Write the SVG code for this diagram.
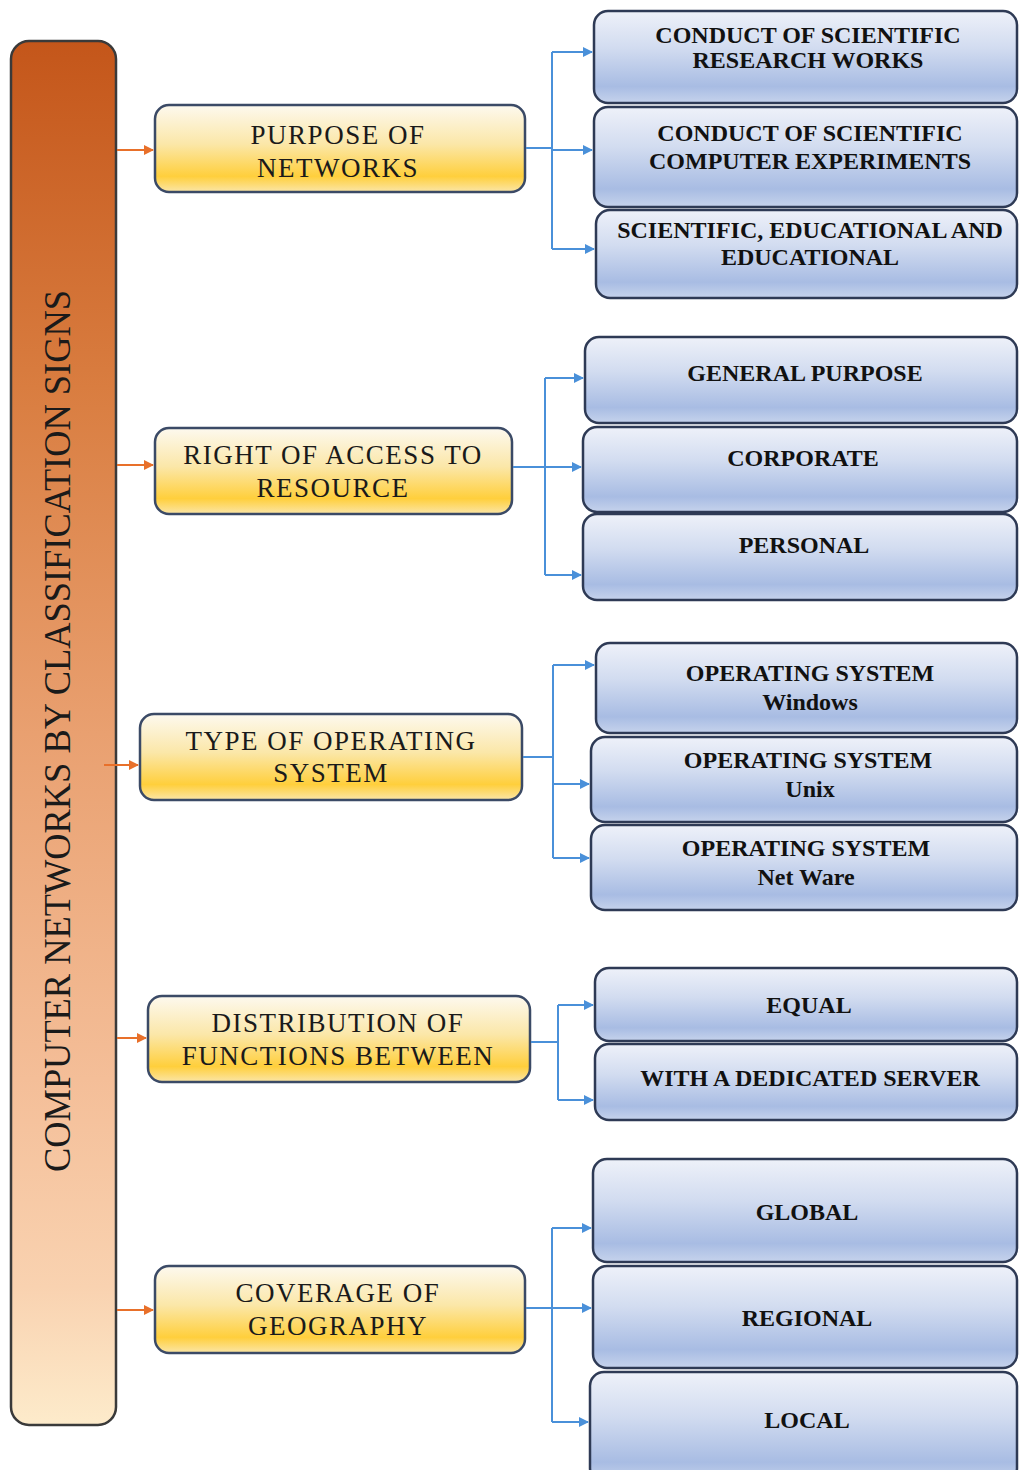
<svg xmlns="http://www.w3.org/2000/svg" width="1019" height="1470" viewBox="0 0 1019 1470">
  <defs>
    <linearGradient id="gBar" x1="0" y1="0" x2="0" y2="1">
      <stop offset="0" stop-color="#C4561A"/>
      <stop offset="0.25" stop-color="#D97D40"/>
      <stop offset="0.5" stop-color="#E9A070"/>
      <stop offset="0.75" stop-color="#F4BE98"/>
      <stop offset="0.9" stop-color="#F9D2B0"/>
      <stop offset="1" stop-color="#FDEBCB"/>
    </linearGradient>
    <linearGradient id="gYellow" x1="0" y1="0" x2="0" y2="1">
      <stop offset="0" stop-color="#FDF9EF"/>
      <stop offset="0.45" stop-color="#FBE7A8"/>
      <stop offset="0.82" stop-color="#FFCF3C"/>
      <stop offset="1" stop-color="#FBE6A8"/>
    </linearGradient>
    <linearGradient id="gBlue" x1="0" y1="0" x2="0" y2="1">
      <stop offset="0" stop-color="#EEF1F9"/>
      <stop offset="0.4" stop-color="#D2DCF0"/>
      <stop offset="0.82" stop-color="#A8BCE3"/>
      <stop offset="1" stop-color="#C6D3EC"/>
    </linearGradient>
    <marker id="arrOrange" viewBox="0 0 10 10" refX="9" refY="5" markerWidth="10" markerHeight="10" markerUnits="userSpaceOnUse" orient="auto">
      <path d="M0,0 L10,5 L0,10 z" fill="#E8702A"/>
    </marker>
    <marker id="arrBlue" viewBox="0 0 10 10" refX="9" refY="5" markerWidth="10" markerHeight="10" markerUnits="userSpaceOnUse" orient="auto">
      <path d="M0,0 L10,5 L0,10 z" fill="#4A90D9"/>
    </marker>
  </defs>
  <style>
    .bar { fill: url(#gBar); stroke: #3A3A3A; stroke-width: 2.5; }
    .cat { fill: url(#gYellow); stroke: #3B4A66; stroke-width: 2.5; }
    .item { fill: url(#gBlue); stroke: #2E3A55; stroke-width: 2.5; }
    .ttl { font-family: "Liberation Serif", "Times New Roman", serif; font-size: 37px; fill: #1A1A1A; }
    .ct { font-family: "Liberation Serif", "Times New Roman", serif; font-size: 27px; letter-spacing: 1.5px; fill: #1A1A1A; text-anchor: middle; }
    .it { font-family: "Liberation Serif", "Times New Roman", serif; font-size: 24px; font-weight: bold; fill: #111; text-anchor: middle; }
    .oc { stroke: #E8702A; stroke-width: 2; fill: none; }
    .bc { stroke: #4A90D9; stroke-width: 2; fill: none; }
  </style>
  <rect width="1019" height="1470" fill="#FFFFFF"/>

  <!-- root bar -->
  <g id="root">
    <rect class="bar" x="11" y="41" width="105" height="1384" rx="18"/>
    <text class="ttl" transform="translate(70,731) rotate(-90)" text-anchor="middle" textLength="882" lengthAdjust="spacingAndGlyphs">COMPUTER NETWORKS BY CLASSIFICATION SIGNS</text>
  </g>

  <!-- category boxes -->
  <g id="cat-purpose">
    <rect class="cat" x="155" y="105" width="370" height="87" rx="14"/>
    <text class="ct" x="338" y="144">PURPOSE OF</text>
    <text class="ct" x="338" y="177">NETWORKS</text>
  </g>
  <g id="cat-access">
    <rect class="cat" x="155" y="428" width="357" height="86" rx="14"/>
    <text class="ct" x="333" y="464">RIGHT OF ACCESS TO</text>
    <text class="ct" x="333" y="497">RESOURCE</text>
  </g>
  <g id="cat-os">
    <rect class="cat" x="140" y="714" width="382" height="86" rx="14"/>
    <text class="ct" x="331" y="750">TYPE OF OPERATING</text>
    <text class="ct" x="331" y="782">SYSTEM</text>
  </g>
  <g id="cat-functions">
    <rect class="cat" x="148" y="996" width="382" height="86" rx="14"/>
    <text class="ct" x="338" y="1032">DISTRIBUTION OF</text>
    <text class="ct" x="338" y="1065">FUNCTIONS BETWEEN</text>
  </g>
  <g id="cat-geography">
    <rect class="cat" x="155" y="1266" width="370" height="87" rx="14"/>
    <text class="ct" x="338" y="1302">COVERAGE OF</text>
    <text class="ct" x="338" y="1335">GEOGRAPHY</text>
  </g>

  <!-- purpose items -->
  <g id="item-research">
    <rect class="item" x="594" y="11" width="423" height="92" rx="14"/>
    <text class="it" x="808" y="43">CONDUCT OF SCIENTIFIC</text>
    <text class="it" x="808" y="68">RESEARCH WORKS</text>
  </g>
  <g id="item-experiments">
    <rect class="item" x="594" y="107" width="423" height="100" rx="14"/>
    <text class="it" x="810" y="141">CONDUCT OF SCIENTIFIC</text>
    <text class="it" x="810" y="169">COMPUTER EXPERIMENTS</text>
  </g>
  <g id="item-educational">
    <rect class="item" x="596" y="210" width="421" height="88" rx="14"/>
    <text class="it" x="810" y="238">SCIENTIFIC, EDUCATIONAL AND</text>
    <text class="it" x="810" y="265">EDUCATIONAL</text>
  </g>

  <!-- access items -->
  <g id="item-general">
    <rect class="item" x="585" y="337" width="432" height="86" rx="14"/>
    <text class="it" x="805" y="381">GENERAL PURPOSE</text>
  </g>
  <g id="item-corporate">
    <rect class="item" x="583" y="427" width="434" height="85" rx="14"/>
    <text class="it" x="803" y="466">CORPORATE</text>
  </g>
  <g id="item-personal">
    <rect class="item" x="583" y="514" width="434" height="86" rx="14"/>
    <text class="it" x="804" y="553">PERSONAL</text>
  </g>

  <!-- operating system items -->
  <g id="item-windows">
    <rect class="item" x="596" y="643" width="421" height="90" rx="14"/>
    <text class="it" x="810" y="681">OPERATING SYSTEM</text>
    <text class="it" x="810" y="710">Windows</text>
  </g>
  <g id="item-unix">
    <rect class="item" x="591" y="737" width="426" height="85" rx="14"/>
    <text class="it" x="808" y="768">OPERATING SYSTEM</text>
    <text class="it" x="810" y="797">Unix</text>
  </g>
  <g id="item-netware">
    <rect class="item" x="591" y="825" width="426" height="85" rx="14"/>
    <text class="it" x="806" y="856">OPERATING SYSTEM</text>
    <text class="it" x="806" y="885">Net Ware</text>
  </g>

  <!-- function distribution items -->
  <g id="item-equal">
    <rect class="item" x="595" y="968" width="422" height="73" rx="14"/>
    <text class="it" x="809" y="1013">EQUAL</text>
  </g>
  <g id="item-server">
    <rect class="item" x="595" y="1044" width="422" height="76" rx="14"/>
    <text class="it" x="810" y="1086">WITH A DEDICATED SERVER</text>
  </g>

  <!-- geography items -->
  <g id="item-global">
    <rect class="item" x="593" y="1159" width="424" height="103" rx="14"/>
    <text class="it" x="807" y="1220">GLOBAL</text>
  </g>
  <g id="item-regional">
    <rect class="item" x="593" y="1266" width="424" height="102" rx="14"/>
    <text class="it" x="807" y="1326">REGIONAL</text>
  </g>
  <g id="item-local">
    <rect class="item" x="590" y="1372" width="427" height="110" rx="14"/>
    <text class="it" x="807" y="1428">LOCAL</text>
  </g>

  <!-- connectors -->
  <g id="connectors">
    <line class="oc" x1="117" y1="150" x2="153" y2="150" marker-end="url(#arrOrange)"/>
    <line class="oc" x1="117" y1="465" x2="153" y2="465" marker-end="url(#arrOrange)"/>
    <line class="oc" x1="104" y1="765" x2="138" y2="765" marker-end="url(#arrOrange)"/>
    <line class="oc" x1="117" y1="1038" x2="146" y2="1038" marker-end="url(#arrOrange)"/>
    <line class="oc" x1="117" y1="1310" x2="153" y2="1310" marker-end="url(#arrOrange)"/>

    <path class="bc" d="M526,148 H552 M552,52 V249"/>
    <line class="bc" x1="552" y1="52" x2="592" y2="52" marker-end="url(#arrBlue)"/>
    <line class="bc" x1="552" y1="150" x2="592" y2="150" marker-end="url(#arrBlue)"/>
    <line class="bc" x1="552" y1="249" x2="594" y2="249" marker-end="url(#arrBlue)"/>

    <path class="bc" d="M513,467 H545 M545,378 V575"/>
    <line class="bc" x1="545" y1="378" x2="583" y2="378" marker-end="url(#arrBlue)"/>
    <line class="bc" x1="545" y1="467" x2="581" y2="467" marker-end="url(#arrBlue)"/>
    <line class="bc" x1="545" y1="575" x2="581" y2="575" marker-end="url(#arrBlue)"/>

    <path class="bc" d="M523,757 H553 M553,665 V858"/>
    <line class="bc" x1="553" y1="665" x2="594" y2="665" marker-end="url(#arrBlue)"/>
    <line class="bc" x1="553" y1="784" x2="589" y2="784" marker-end="url(#arrBlue)"/>
    <line class="bc" x1="553" y1="858" x2="589" y2="858" marker-end="url(#arrBlue)"/>

    <path class="bc" d="M531,1042 H558 M558,1005 V1100"/>
    <line class="bc" x1="558" y1="1005" x2="593" y2="1005" marker-end="url(#arrBlue)"/>
    <line class="bc" x1="558" y1="1100" x2="593" y2="1100" marker-end="url(#arrBlue)"/>

    <path class="bc" d="M526,1308 H552 M552,1228 V1422"/>
    <line class="bc" x1="552" y1="1228" x2="591" y2="1228" marker-end="url(#arrBlue)"/>
    <line class="bc" x1="552" y1="1308" x2="591" y2="1308" marker-end="url(#arrBlue)"/>
    <line class="bc" x1="552" y1="1422" x2="588" y2="1422" marker-end="url(#arrBlue)"/>
  </g>
</svg>
